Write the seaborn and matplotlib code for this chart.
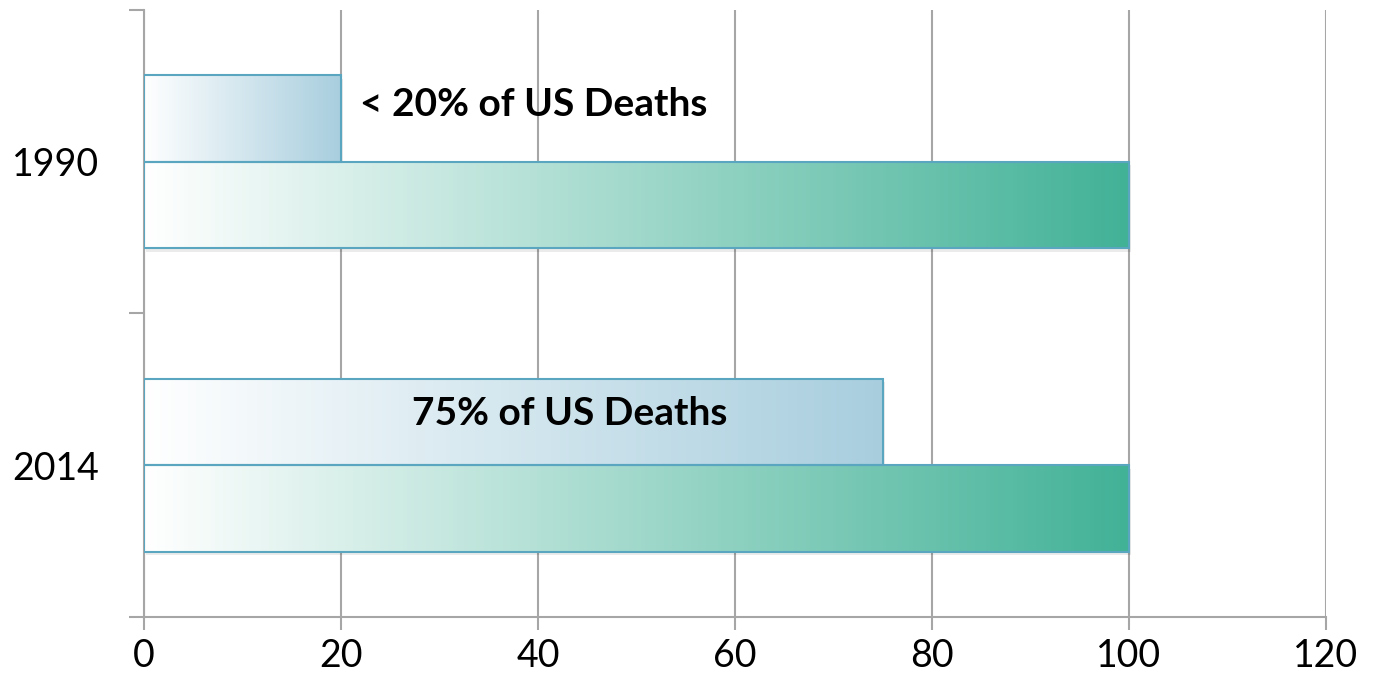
import numpy as np
import pandas as pd
import matplotlib
matplotlib.use("Agg")
import matplotlib.pyplot as plt
import seaborn as sns
from matplotlib.colors import LinearSegmentedColormap
from matplotlib.patches import Rectangle
from matplotlib.ticker import FixedLocator

# ---------- data ----------
years = ["1990", "2014"]
share_deaths = [20, 75]      # upper (blue) bars
baseline = [100, 100]        # lower (green) bars
bar_notes = ["< 20% of US Deaths", "75% of US Deaths"]
x_ticks = [0, 20, 40, 60, 80, 100, 120]

df = pd.DataFrame({
    "year": years * 2,
    "value": share_deaths + baseline,
    "series": ["share"] * len(years) + ["total"] * len(years),
})

sns.set_style("white")
plt.rcParams["font.family"] = ["Lato", "DejaVu Sans"]
plt.rcParams["text.color"] = "black"
plt.rcParams["xtick.color"] = "black"
plt.rcParams["ytick.color"] = "black"

grid_col = "#a6a6a6"
edge_col = "#5aa6c0"
end_cols = {"share": "#a8cede", "total": "#42b297"}

fig = plt.figure(figsize=(13.79, 6.94), dpi=100)
ax = fig.add_axes([0.1044, 0.111, 0.8572, 0.8746])

sns.barplot(data=df, x="value", y="year", hue="series", orient="h",
            width=0.57, dodge=True, ax=ax, legend=False,
            palette=end_cols, edgecolor=edge_col, linewidth=1.5)

# gradient fill for every bar (white -> series colour)
series_order = ["share", "total"]
for i, container in enumerate(ax.containers):
    cmap = LinearSegmentedColormap.from_list(
        "g", ["#ffffff", end_cols[series_order[i]]])
    for patch in container:
        x0, y0 = patch.get_x(), patch.get_y()
        w, h = patch.get_width(), patch.get_height()
        # soft shadow
        shadow = Rectangle((x0 + 0.25, y0 + 0.012), w, h, facecolor="#000000",
                           alpha=0.08, edgecolor="none", zorder=1.5)
        ax.add_patch(shadow)
        grad = np.linspace(0, 1, 256).reshape(1, -1)
        im = ax.imshow(grad, cmap=cmap, aspect="auto",
                       extent=(x0, x0 + w, y0 + h, y0), zorder=2,
                       interpolation="bicubic")
        im.set_clip_path(patch)
        patch.set_facecolor("none")
        patch.set_zorder(3)

ax.set_xlim(0, 120)
ax.set_ylim(1.5, -0.5)

# notes on the blue bars
ax.text(21.9, -0.19, bar_notes[0], fontsize=28, fontweight="bold",
        ha="left", va="center", zorder=1)
ax.text(43.2, 0.83, bar_notes[1], fontsize=28, fontweight="bold",
        ha="center", va="center", zorder=4)

# axes styling
ax.set_xticks(x_ticks)
ax.xaxis.grid(True, color=grid_col, linewidth=1.5, zorder=0)
ax.set_axisbelow(True)
for side in ["top", "right"]:
    ax.spines[side].set_visible(False)
for side in ["left", "bottom"]:
    ax.spines[side].set_color(grid_col)
    ax.spines[side].set_linewidth(1.5)

ax.yaxis.set_minor_locator(FixedLocator([-0.5, 0.5, 1.5]))
ax.tick_params(axis="y", which="major", length=0, pad=32, labelsize=27)
ax.tick_params(axis="y", which="minor", length=11, width=1.5, color=grid_col,
               left=True)
ax.tick_params(axis="x", which="major", length=9.5, width=1.5, color=grid_col,
               pad=6, labelsize=27, bottom=True)
ax.set_xlabel("")
ax.set_ylabel("")

fig.savefig("out.png", dpi=100)
